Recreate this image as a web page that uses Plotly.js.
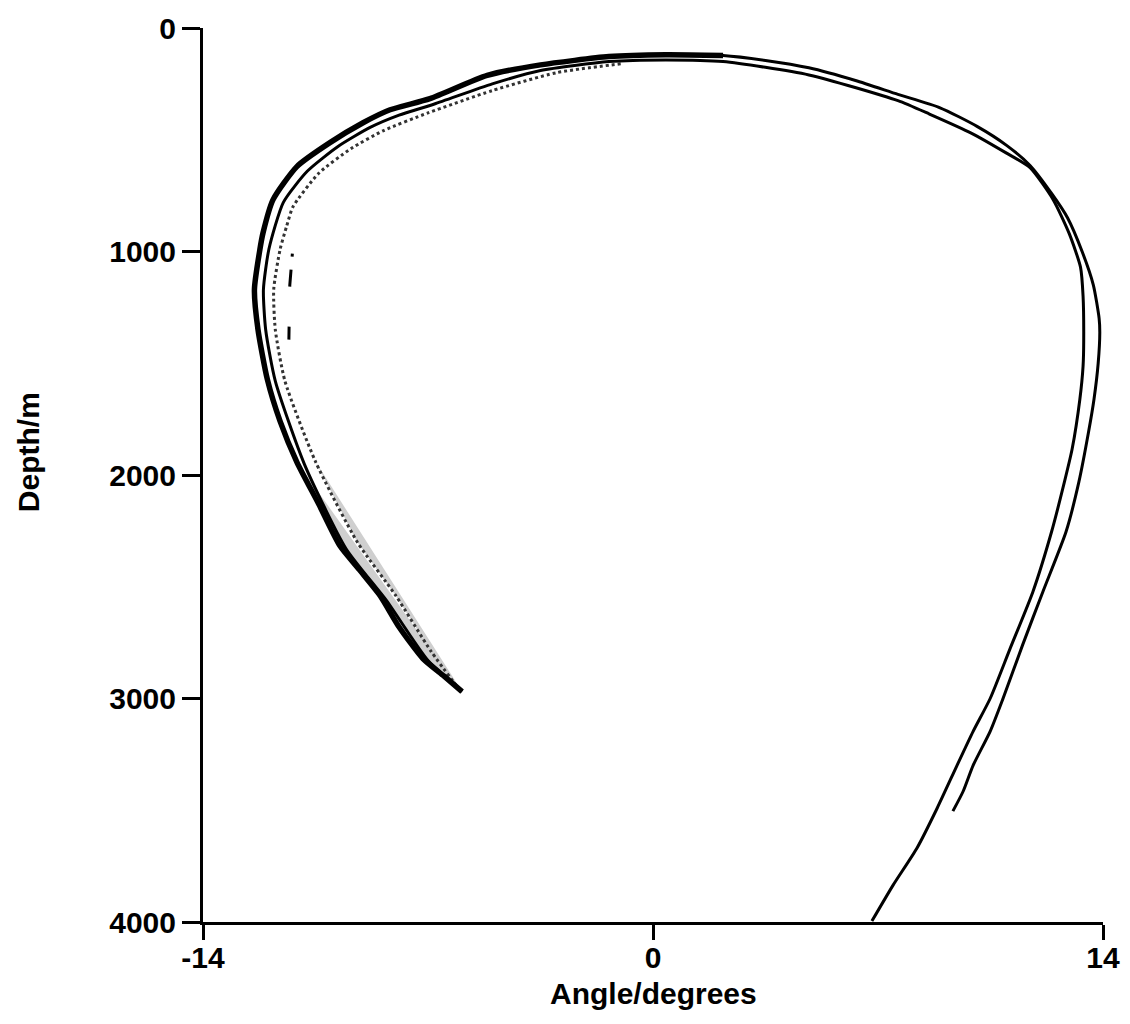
<!DOCTYPE html>
<html>
<head>
<meta charset="utf-8">
<script src="https://cdn.plot.ly/plotly-3.0.1.min.js"></script>
<style>html,body{margin:0;padding:0;background:#fff;}#chart{width:1130px;height:1024px;}</style>
</head>
<body>
<div id="chart"></div>
<script>
// Curve B: left outer branch, over the top, right outer branch (ends near 3500 m)
var curveBAngle = [-5.94,-6.5,-7.16,-7.9,-8.49,-9.1,-9.74,-10.4,-11.08,-11.6,-12.0,-12.29,-12.4,-12.23,-12.13,-11.82,-11.08,-10.05,-9.02,-8.18,-6.94,-5.16,-3.5,-1.37,0.4,2.18,3.5,4.85,6.3,7.62,8.93,10.08,11.0,11.73,12.4,12.9,13.35,13.7,13.88,13.9,13.85,13.72,13.55,13.25,12.85,12.13,11.5,10.89,10.49,9.96,9.65,9.33];
var curveBDepth = [2969,2900,2821,2680,2540,2430,2317,2130,1942,1760,1571,1348,1170,991,915,768,620,513,424,366,316,212,165,128,120,123,145,178,235,297,357,440,525,615,740,850,1000,1150,1300,1362,1500,1661,1808,2031,2254,2522,2760,3000,3147,3299,3415,3504];

// Curve A: second left branch, lower edge of the top, right inner branch (reaches 4000 m)
var curveAAngle = [-6.0,-7.0,-8.3,-9.55,-10.85,-11.75,-12.05,-12.12,-11.95,-11.5,-10.75,-9.8,-8.8,-7.9,-6.8,-5.0,-3.5,-1.37,0.4,2.18,4.85,7.62,8.6,9.9,11.0,11.73,12.45,12.95,13.3,13.38,13.4,13.38,13.28,13.04,12.8,12.4,11.82,11.1,10.49,9.96,9.46,8.84,8.21,7.47,6.81];
var curveADepth = [2960,2830,2560,2330,1950,1580,1350,1170,990,780,640,530,445,390,340,250,190,150,143,150,210,325,385,470,560,625,768,920,1070,1200,1400,1513,1661,1884,2031,2254,2522,2780,3000,3147,3299,3491,3670,3835,3996];

// Curve C: dotted inner left branch
var curveCAngle = [-6.0,-6.9,-8.0,-9.2,-10.5,-11.45,-11.75,-11.8,-11.6,-11.4,-11.2,-10.4,-9.4,-8.4,-7.0,-5.0,-3.0,-1.0];
var curveCDepth = [2965,2790,2540,2300,1940,1580,1350,1170,990,888,800,650,540,460,380,280,200,160];

// Curve D: dashed innermost left segment
var curveDAngle = [-11.22,-11.3,-11.33];
var curveDDepth = [1010,1150,1410];

var xTicks = [-14, 0, 14];
var xTickText = ['-14', '0', '14'];
var yTicks = [0, 1000, 2000, 3000, 4000];
var yTickText = ['0', '1000', '2000', '3000', '4000'];
var xTitle = 'Angle/degrees';
var yTitle = 'Depth/m';

// shaded band between outer and dotted branches in the lower left
var fillX = [], fillY = [];
for (var i = 0; i < curveBAngle.length; i++) {
  if (curveBAngle[i] < 0 && curveBDepth[i] >= 1900) { fillX.push(curveBAngle[i]); fillY.push(curveBDepth[i]); }
}
for (var j = curveCAngle.length - 1; j >= 0; j--) {
  if (curveCDepth[j] >= 1900) { fillX.unshift(curveCAngle[j]); fillY.unshift(curveCDepth[j]); }
}
// left heavy part of curve B
var heavyX = [], heavyY = [];
for (var k = 0; k < curveBAngle.length; k++) {
  if (curveBAngle[k] <= 2.5) { heavyX.push(curveBAngle[k]); heavyY.push(curveBDepth[k]); }
}

var traces = [
  {x: fillX, y: fillY, mode: 'lines', fill: 'toself', fillcolor: '#cfcfcf', line: {width: 0}, hoverinfo: 'skip', showlegend: false},
  {x: curveCAngle, y: curveCDepth, mode: 'lines', line: {color: '#333', width: 3, dash: 'dot', shape: 'spline', smoothing: 0.6}, showlegend: false},
  {x: curveAAngle, y: curveADepth, mode: 'lines', line: {color: '#000', width: 3, shape: 'spline', smoothing: 0.6}, showlegend: false},
  {x: curveBAngle, y: curveBDepth, mode: 'lines', line: {color: '#000', width: 3, shape: 'spline', smoothing: 0.6}, showlegend: false},
  {x: heavyX, y: heavyY, mode: 'lines', line: {color: '#000', width: 5.5, shape: 'spline', smoothing: 0.6}, showlegend: false},
  {x: curveDAngle, y: curveDDepth, mode: 'lines', line: {color: '#000', width: 3, dash: '3px,13px,17px,40px,13px,200px'}, showlegend: false}
];

var axisFont = {family: 'Liberation Sans, Arial, sans-serif', size: 30, color: '#000', weight: 'bold'};

var layout = {
  width: 1130, height: 1024,
  paper_bgcolor: '#fff', plot_bgcolor: '#fff',
  margin: {l: 203, r: 27, t: 28, b: 102},
  showlegend: false,
  xaxis: {
    range: [-14, 14], tickvals: xTicks, ticktext: xTickText,
    showgrid: false, zeroline: false, showline: true, linecolor: '#000', linewidth: 3,
    ticks: 'outside', ticklen: 15, tickwidth: 3, tickcolor: '#000',
    ticklabelstandoff: -8,
    tickfont: axisFont
  },
  yaxis: {
    range: [4000, 0], tickvals: yTicks, ticktext: yTickText,
    showgrid: false, zeroline: false, showline: true, linecolor: '#000', linewidth: 3,
    ticks: 'outside', ticklen: 18, tickwidth: 3, tickcolor: '#000',
    tickfont: axisFont
  },
  annotations: [
    {text: '<b>' + xTitle + '</b>', xref: 'paper', yref: 'paper', x: 0.5, y: -0.08, xanchor: 'center', yanchor: 'middle', showarrow: false, font: axisFont},
    {text: '<b>' + yTitle + '</b>', xref: 'paper', yref: 'paper', x: -0.194, y: 0.526, xanchor: 'center', yanchor: 'middle', textangle: -90, showarrow: false, font: axisFont}
  ]
};

Plotly.newPlot('chart', traces, layout, {staticPlot: true, displayModeBar: false});
</script>
</body>
</html>
